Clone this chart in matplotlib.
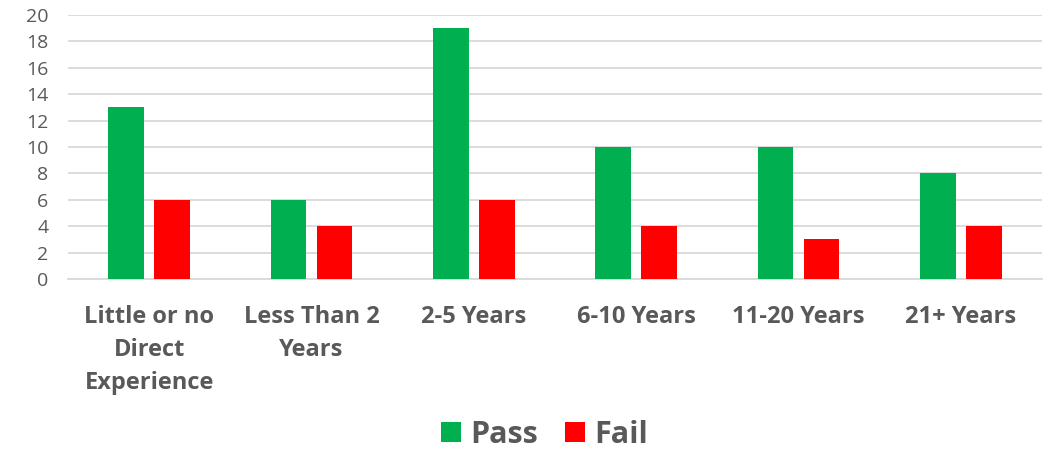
import matplotlib
matplotlib.use('Agg')
import matplotlib.pyplot as plt
import numpy as np

# Dados do gráfico
categorias = ['Little or no\nDirect\nExperience', 'Less Than 2\nYears', '2-5 Years',
              '6-10 Years', '11-20 Years', '21+ Years']
aprovados = [13, 6, 19, 10, 10, 8]
reprovados = [6, 4, 6, 4, 3, 4]

plt.rcParams['font.family'] = ['Open Sans', 'DejaVu Sans']
cinza = '#595959'

fig = plt.figure(figsize=(10.53, 4.68), dpi=100)
ax = fig.add_axes([0.0646, 0.404, 0.925, 0.564])

x = np.arange(len(categorias))
largura = 0.22
ax.bar(x - 0.142, aprovados, largura, color='#00B050', label='Pass', zorder=3)
ax.bar(x + 0.142, reprovados, largura, color='#FF0000', label='Fail', zorder=3)

ax.set_xlim(-0.5, len(categorias) - 0.5)
ax.set_ylim(0, 20)
ax.set_yticks(range(0, 21, 2))
ax.yaxis.grid(True, color='#D9D9D9', linewidth=1.3, zorder=0)
ax.set_axisbelow(True)

for lado in ['top', 'right', 'left']:
    ax.spines[lado].set_visible(False)
ax.spines['bottom'].set_color('#D9D9D9')
ax.spines['bottom'].set_linewidth(1.3)

ax.tick_params(axis='y', length=0, labelsize=14, labelcolor=cinza, pad=14)
ax.tick_params(axis='x', length=0, labelsize=17, labelcolor=cinza, pad=19)
ax.set_xticks(x)
ax.set_xticklabels(categorias, fontweight='bold', linespacing=1.5)

leg = fig.legend(loc='lower center', bbox_to_anchor=(0.517, -0.02), ncol=2, frameon=False,
                 prop={'size': 22, 'weight': 'bold'}, handlelength=0.65, handleheight=0.65,
                 handletextpad=0.3, columnspacing=0.9)
for t in leg.get_texts():
    t.set_color(cinza)

fig.savefig('out.png', dpi=100)
